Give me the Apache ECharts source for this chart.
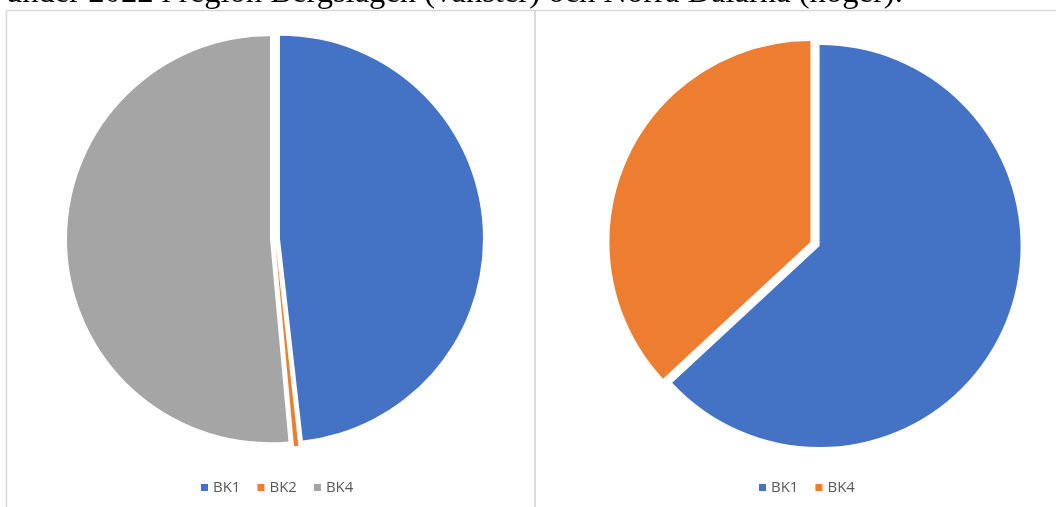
<!DOCTYPE html>
<html>
<head>
<meta charset="utf-8">
<script src="https://cdn.jsdelivr.net/npm/echarts@6/dist/echarts.min.js"></script>
<style>
html,body{margin:0;padding:0;background:#fff;}
#chart{width:1056px;height:507px;}
</style>
</head>
<body>
<div id="chart"></div>
<script>
const captionText = 'under 2022 i region Bergslagen (vänster) och Norra Dalarna (höger).';
const leftCategories = ['BK1', 'BK2', 'BK4'];
const leftValues = [48.2, 0.35, 51.45];
const rightCategories = ['BK1', 'BK4'];
const rightValues = [63.1, 36.9];
const leftColors = { BK1: '#4472C4', BK2: '#ED7D31', BK4: '#A5A5A5' };
const rightColors = { BK1: '#4472C4', BK4: '#ED7D31' };

function pieData(cats, vals, cmap) {
  return cats.map((c, i) => ({ name: c, value: vals[i], selected: true, itemStyle: { color: cmap[c] } }));
}
function legendData(cats, cmap) {
  return cats.map(c => ({ name: c, itemStyle: { color: cmap[c] } }));
}

const chart = echarts.init(document.getElementById('chart'), null, { renderer: 'canvas' });
const legendText = { color: '#595959', fontSize: 15, fontFamily: '"Open Sans", "Liberation Sans", sans-serif' };

chart.setOption({
  animation: false,
  backgroundColor: '#ffffff',
  graphic: [
    { type: 'rect', shape: { x: 6.5, y: 10.5, width: 528.5, height: 520 }, style: { fill: 'none', stroke: '#d9d9d9', lineWidth: 1.5 }, silent: true },
    { type: 'rect', shape: { x: 535, y: 10.5, width: 540, height: 520 }, style: { fill: 'none', stroke: '#d9d9d9', lineWidth: 1.5 }, silent: true },
    { type: 'text', x: 6, y: 10, style: { text: captionText, font: '32.6px "Liberation Serif", "Times New Roman", serif', fill: '#000', verticalAlign: 'bottom', align: 'left' }, silent: true }
  ],
  legend: [
    { data: legendData(leftCategories, leftColors), left: 196, top: 475, icon: 'rect', itemWidth: 7, itemHeight: 7, itemGap: 17, textStyle: legendText, selectedMode: false },
    { data: legendData(rightCategories, rightColors), left: 754, top: 475, icon: 'rect', itemWidth: 7, itemHeight: 7, itemGap: 17, textStyle: legendText, selectedMode: false }
  ],
  series: [
    {
      type: 'pie', center: [275, 239], radius: 203, startAngle: 90, clockwise: true,
      selectedMode: 'multiple', selectedOffset: 5,
      label: { show: false }, labelLine: { show: false },
      emphasis: { disabled: true },
      data: pieData(leftCategories, leftValues, leftColors)
    },
    {
      type: 'pie', center: [815, 244], radius: 201, startAngle: 90, clockwise: true,
      selectedMode: 'multiple', selectedOffset: 5,
      label: { show: false }, labelLine: { show: false },
      emphasis: { disabled: true },
      data: pieData(rightCategories, rightValues, rightColors)
    }
  ]
});
</script>
</body>
</html>
